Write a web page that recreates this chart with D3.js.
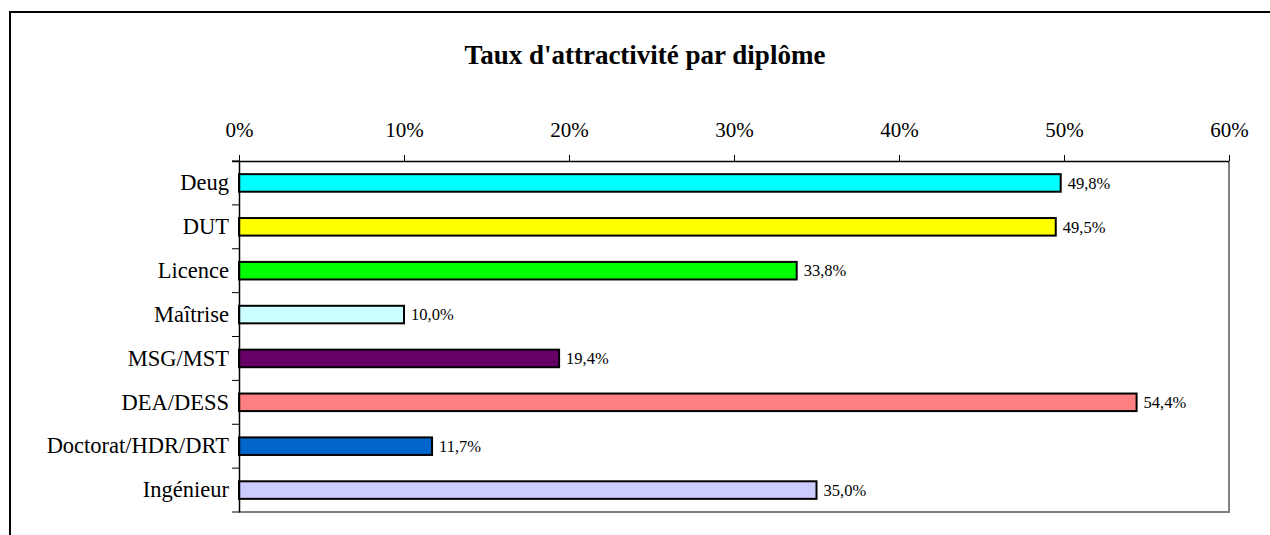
<!DOCTYPE html>
<html>
<head>
<meta charset="utf-8">
<script src="https://cdn.jsdelivr.net/npm/d3@7"></script>
<style>
  html, body { margin: 0; padding: 0; background: #fff; }
  svg { display: block; }
  text { font-family: "Liberation Serif", "Times New Roman", serif; fill: #000; }
</style>
</head>
<body>
<svg id="chart" width="1270" height="535"></svg>
<script>
const title = "Taux d'attractivité par diplôme";
const categories = ["Deug", "DUT", "Licence", "Maîtrise", "MSG/MST", "DEA/DESS", "Doctorat/HDR/DRT", "Ingénieur"];
const values = [0.498, 0.495, 0.338, 0.100, 0.194, 0.544, 0.117, 0.350];
const colors = ["#00FFFF", "#FFFF00", "#00FF00", "#CCFFFF", "#660066", "#FF8080", "#0066CC", "#CCCCFF"];
const tickValues = [0, 0.1, 0.2, 0.3, 0.4, 0.5, 0.6];

const svg = d3.select("#chart");
const W = 1270, H = 535;
const plot = { left: 239, right: 1229, top: 161, bottom: 512 };
const serif = "'Liberation Serif', 'Times New Roman', serif";

// outer frame (extends beyond right/bottom of view)
svg.append("path")
  .attr("d", `M10,${H + 5} L10,12 L${W + 5},12`)
  .attr("fill", "none").attr("stroke", "#000").attr("stroke-width", 2);

// title
svg.append("text")
  .attr("x", 645).attr("y", 64)
  .attr("text-anchor", "middle")
  .style("font-size", "27px").style("font-weight", "bold")
  .text(title);

const x = d3.scaleLinear().domain([0, 0.6]).range([plot.left, plot.right]);
const y = d3.scaleBand().domain(categories).range([plot.top, plot.bottom]).padding(0);

const fr = d3.formatLocale({ decimal: ",", thousands: " ", grouping: [3], currency: ["", " €"], percent: "%" });
const fmtVal = fr.format(".1%");
const fmtTick = fr.format(".0%");

// plot area: right and bottom grey border
svg.append("path")
  .attr("d", `M${plot.left},${plot.bottom} L${plot.right},${plot.bottom} L${plot.right},${plot.top}`)
  .attr("fill", "none").attr("stroke", "#808080").attr("stroke-width", 2);

// bars
const barH = y.bandwidth() * 0.4;
svg.append("g").selectAll("rect")
  .data(categories)
  .join("rect")
  .attr("x", x(0))
  .attr("y", (d) => y(d) + (y.bandwidth() - barH) / 2)
  .attr("width", (d, i) => x(values[i]) - x(0))
  .attr("height", barH)
  .attr("fill", (d, i) => colors[i])
  .attr("stroke", "#000")
  .attr("stroke-width", 2);

// value labels
svg.append("g").selectAll("text")
  .data(categories)
  .join("text")
  .attr("x", (d, i) => x(values[i]) + 7)
  .attr("y", (d) => y(d) + y.bandwidth() / 2)
  .attr("dy", "0.35em")
  .style("font-size", "16.5px")
  .text((d, i) => fmtVal(values[i]));

// top axis
const xAxis = d3.axisTop(x).tickValues(tickValues).tickFormat(fmtTick).tickSize(6).tickPadding(18);
const gx = svg.append("g").attr("transform", `translate(0,${plot.top})`).call(xAxis);
gx.attr("font-family", null);
gx.select(".domain").attr("stroke", "#000").attr("stroke-width", 1.5).attr("d", `M${plot.left - 7},0.5H${plot.right}`);
gx.selectAll(".tick line").attr("stroke", "#000");
gx.selectAll(".tick text").style("font-size", "21px").style("font-family", serif).attr("fill", "#000");

// left axis with category labels
const yAxis = d3.axisLeft(y).tickSize(0).tickPadding(10);
const gy = svg.append("g").attr("transform", `translate(${plot.left},0)`).call(yAxis);
gy.attr("font-family", null);
gy.select(".domain").attr("stroke", "#000").attr("stroke-width", 1.5);
gy.selectAll(".tick text").style("font-size", "22.5px").style("font-family", serif).attr("fill", "#000");

// boundary ticks on left axis
const bounds = categories.map((c) => y(c)).concat([y.range()[1]]);
svg.append("g").selectAll("line")
  .data(bounds)
  .join("line")
  .attr("x1", plot.left - 7).attr("x2", plot.left)
  .attr("y1", (d) => d).attr("y2", (d) => d)
  .attr("stroke", "#000").attr("stroke-width", 1);
</script>
</body>
</html>
